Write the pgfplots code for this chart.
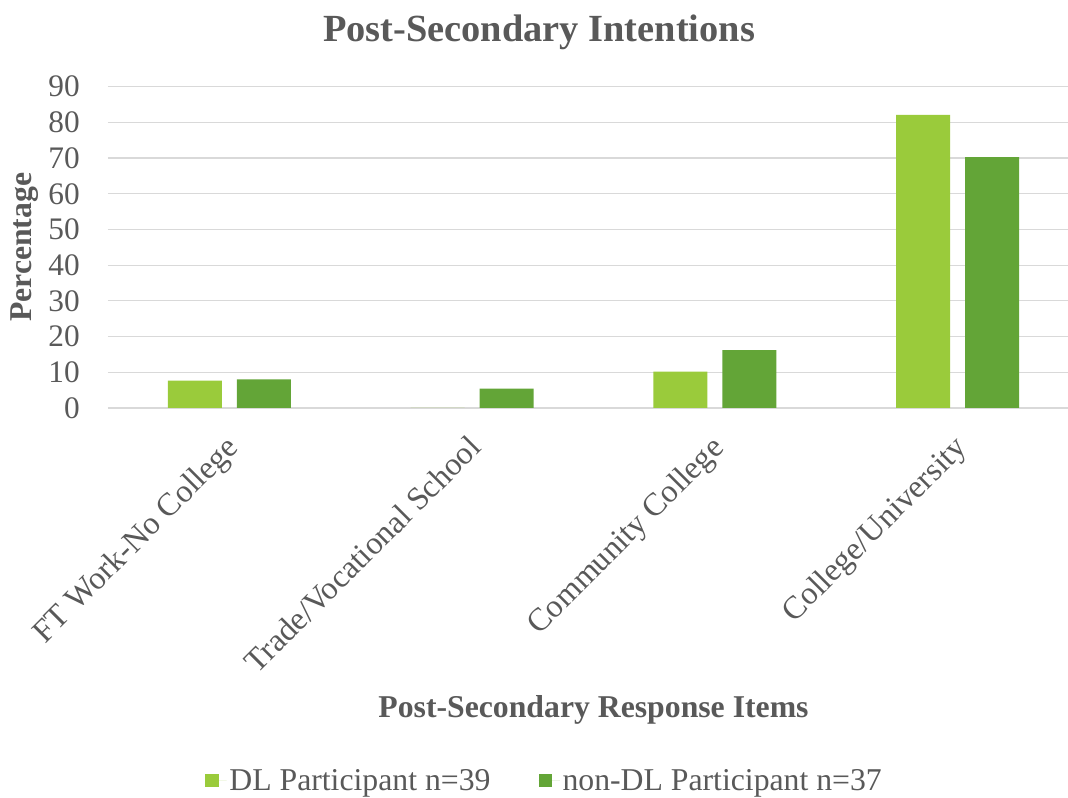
\documentclass[border=0pt]{standalone}
\usepackage{pgfplots}
\pgfplotsset{compat=1.18}
\usepackage{fontspec}
\setmainfont{Liberation Serif}

\definecolor{txt}{HTML}{595959}
\definecolor{grd}{HTML}{D9D9D9}
\definecolor{dl}{HTML}{9ACB3B}
\definecolor{ndl}{HTML}{63A537}

\begin{document}
\begin{tikzpicture}
% page = 1068 x 798 px at 0.75pt/px, axis box starts at (108,408) px
\path[use as bounding box] (-81pt,-292.5pt) rectangle (720pt,306pt);
\begin{axis}[
  at={(0,0)}, anchor=south west,
  scale only axis, width=728.25pt, height=241pt,
  ybar=11.25pt, bar width=40.5pt,
  xmin=-0.5, xmax=3.5, ymin=0, ymax=90,
  xtick={0,1,2,3},
  xticklabels={FT Work-No College, Trade/Vocational School, Community College, College/University},
  ytick={0,10,...,90},
  ymajorgrids, grid style={grd, line width=0.9pt},
  axis line style={draw=none},
  major tick length=0pt,
  tick label style={font=\fontsize{23.5}{28}\selectfont, text=txt},
  /pgf/number format/assume math mode=true,
  yticklabel style={anchor=east, inner sep=0pt, xshift=-21pt},
  xticklabel style={font=\fontsize{24.2}{28}\selectfont, xshift=-4pt, yshift=-19pt, rotate=45, anchor=north east, inner sep=0pt},
  title={Post-Secondary Intentions},
  title style={at={(axis description cs:0.444,1.145)}, anchor=center,
    font=\fontsize{28.8}{34}\selectfont\bfseries, text=txt},
  xlabel={Post-Secondary Response Items},
  xlabel style={at={(axis description cs:0.5,-0.94)}, anchor=center,
    font=\fontsize{23.8}{28}\selectfont\bfseries, text=txt},
  ylabel={Percentage},
  ylabel style={at={(axis description cs:-0.0855,0.5)}, anchor=center,
    font=\fontsize{23.8}{28}\selectfont\bfseries, text=txt},
  legend columns=2,
  legend style={at={(axis description cs:0.45,-1.16)}, anchor=center, draw=none,
    font=\fontsize{23.8}{28}\selectfont, text=txt,
    /tikz/every even column/.append style={column sep=34pt}},
  legend image code/.code={\fill[#1] (0pt,-5pt) rectangle (10pt,5pt); \path (0pt,0pt) -- (16pt,0pt);},
]
\addplot[fill=dl, draw=none] coordinates {(0,7.7) (1,0) (2,10.2) (3,82.1)};
\addplot[fill=ndl, draw=none] coordinates {(0,8.0) (1,5.4) (2,16.2) (3,70.3)};
\legend{DL Participant n=39, non-DL Participant n=37}
\end{axis}
\end{tikzpicture}
\end{document}
